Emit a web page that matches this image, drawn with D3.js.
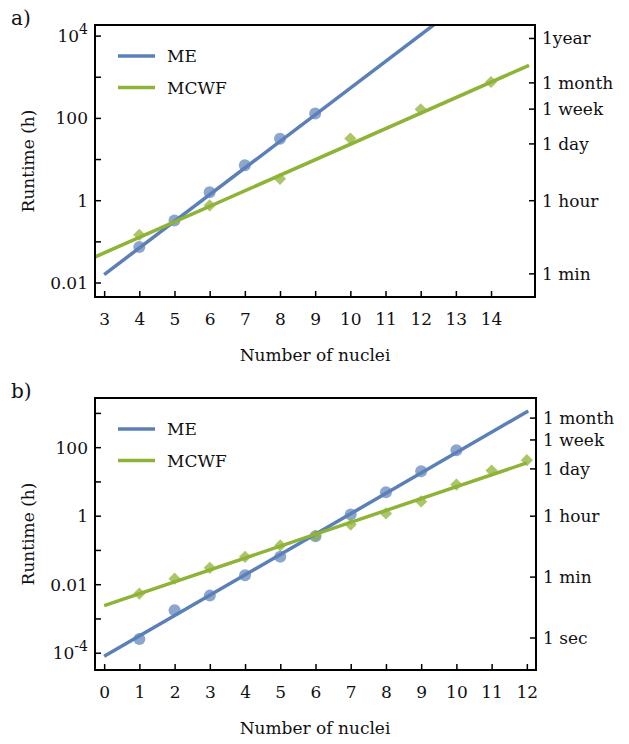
<!DOCTYPE html>
<html>
<head>
<meta charset="utf-8">
<style>
  body { margin: 0; background: #fff; }
  text { font-family: "DejaVu Serif", serif; fill: #111; }
</style>
</head>
<body>
<svg id="chart" width="629" height="744"></svg>
<script src="https://cdn.jsdelivr.net/npm/d3@7"></script>
<script>
// ---- data (runtime in hours) ----
var meNucleiA = [4, 5, 6, 7, 8, 9];
var meRuntimeA = [0.075, 0.33, 1.6, 7.3, 32, 132];
var mcwfNucleiA = [4, 6, 8, 10, 12, 14];
var mcwfRuntimeA = [0.148, 0.77, 3.4, 32.5, 166, 767];
var meFitA = [[3, 0.016], [12.5, 22700]];
var mcwfFitA = [[2.6, 0.038], [15.08, 1950]];

var meNucleiB = [1, 2, 3, 4, 5, 6, 7, 8, 9, 10];
var meRuntimeB = [0.00026, 0.0018, 0.0048, 0.019, 0.065, 0.26, 1.12, 5.0, 20.6, 84.7];
var mcwfNucleiB = [1, 2, 3, 4, 5, 6, 7, 8, 9, 10, 11, 12];
var mcwfRuntimeB = [0.0055, 0.015, 0.031, 0.065, 0.14, 0.27, 0.57, 1.2, 2.7, 8.4, 21.5, 43];
var meFitB = [[0, 0.000081], [12.04, 1175]];
var mcwfFitB = [[0, 0.00245], [12, 36]];

var xTicksA = [3, 4, 5, 6, 7, 8, 9, 10, 11, 12, 13, 14];
var xTicksB = [0, 1, 2, 3, 4, 5, 6, 7, 8, 9, 10, 11, 12];
var yLabelsA = [[10000, "10", "4"], [100, "100"], [1, "1"], [0.01, "0.01"]];
var yMinorA = [1000, 10, 0.1];
var yLabelsB = [[100, "100"], [1, "1"], [0.01, "0.01"], [0.0001, "10", "-4"]];
var yMinorB = [1000, 10, 0.1, 0.001];
var timeLabelsA = ["1 min", "1 hour", "1 day", "1 week", "1 month", "1year"];
var timeHoursA = [1 / 60, 1, 24, 168, 730, 8760];
var timeLabelsB = ["1 sec", "1 min", "1 hour", "1 day", "1 week", "1 month"];
var timeHoursB = [1 / 3600, 1 / 60, 1, 24, 168, 730];

var blue = "#5b80b8";
var green = "#8fb337";
var svg = d3.select("#chart");

function drawPanel(o) {
  var g = svg.append("g");
  var x = d3.scaleLinear().domain(o.xDomain).range([95, o.right]);
  var y = d3.scaleLog().domain(o.yDomain).range([o.bottom, o.top]);
  var clipId = "clip" + o.name;
  g.append("clipPath").attr("id", clipId).append("rect")
    .attr("x", 95).attr("y", o.top).attr("width", o.right - 95).attr("height", o.bottom - o.top);

  var plot = g.append("g").attr("clip-path", "url(#" + clipId + ")");
  var line = d3.line().x(function (d) { return x(d[0]); }).y(function (d) { return y(d[1]); });

  // points first, fits on top
  plot.selectAll("circle").data(d3.zip(o.meN, o.meT)).enter().append("circle")
    .attr("cx", function (d) { return x(d[0]); }).attr("cy", function (d) { return y(d[1]); })
    .attr("r", 6).attr("fill", blue).attr("opacity", 0.7);
  plot.selectAll("path.dia").data(d3.zip(o.mcN, o.mcT)).enter().append("path")
    .attr("class", "dia")
    .attr("d", d3.symbol().type(d3.symbolDiamond2).size(95))
    .attr("transform", function (d) { return "translate(" + x(d[0]) + "," + y(d[1]) + ")"; })
    .attr("fill", green).attr("opacity", 0.75);
  plot.append("path").attr("d", line(o.meFit)).attr("stroke", blue).attr("stroke-width", 3.5).attr("fill", "none");
  plot.append("path").attr("d", line(o.mcFit)).attr("stroke", green).attr("stroke-width", 3.5).attr("fill", "none");

  // frame
  g.append("rect").attr("x", 95).attr("y", o.top).attr("width", o.right - 95).attr("height", o.bottom - o.top)
    .attr("fill", "none").attr("stroke", "#000").attr("stroke-width", 2);

  // bottom axis, ticks inside
  var xAxis = g.append("g").attr("transform", "translate(0," + o.bottom + ")")
    .call(d3.axisBottom(x).tickValues(o.xTicks).tickSizeInner(-6).tickSizeOuter(0).tickPadding(16));
  xAxis.select(".domain").remove();
  xAxis.selectAll("line").attr("stroke-width", 1.5);
  xAxis.selectAll("text").attr("font-size", 17).attr("font-family", "DejaVu Serif").attr("fill", "#111");

  // left axis
  var lt = o.yMinor.concat(o.yLabels.map(function (d) { return d[0]; }));
  g.selectAll("line.lt").data(lt).enter().append("line")
    .attr("x1", 95).attr("x2", 101).attr("y1", function (d) { return y(d); }).attr("y2", function (d) { return y(d); })
    .attr("stroke", "#000").attr("stroke-width", 1.5);
  var yl = g.selectAll("text.yl").data(o.yLabels).enter().append("text")
    .attr("x", 88).attr("y", function (d) { return y(d[0]) + 6; })
    .attr("text-anchor", "end").attr("font-size", 17);
  yl.append("tspan").text(function (d) { return d[1]; });
  yl.filter(function (d) { return d[2]; }).append("tspan")
    .attr("dy", -8).attr("font-size", 14).text(function (d) { return d[2]; });

  // right axis (times)
  g.selectAll("line.rt").data(o.timeH).enter().append("line")
    .attr("x1", o.right - 6).attr("x2", o.right).attr("y1", function (d) { return y(d); }).attr("y2", function (d) { return y(d); })
    .attr("stroke", "#000").attr("stroke-width", 1.5);
  g.selectAll("text.rl").data(d3.zip(o.timeH, o.timeL)).enter().append("text")
    .attr("x", o.right + 7).attr("y", function (d) { return y(d[0]) + 6; })
    .attr("font-size", 17).text(function (d) { return d[1]; });

  // titles
  g.append("text").attr("transform", "translate(34," + ((o.top + o.bottom) / 2) + ") rotate(-90)")
    .attr("text-anchor", "middle").attr("font-size", 17).text("Runtime (h)");
  g.append("text").attr("x", 315).attr("y", o.bottom + 64).attr("text-anchor", "middle")
    .attr("font-size", 17).text("Number of nuclei");
  g.append("text").attr("x", 11).attr("y", o.top).attr("font-family", "DejaVu Sans")
    .attr("font-size", 20).text(o.name + ")");

  // legend
  var leg = [["ME", blue], ["MCWF", green]];
  leg.forEach(function (d, i) {
    var ly = o.top + o.legTop + i * 31.5;
    g.append("line").attr("x1", 118).attr("x2", 155).attr("y1", ly).attr("y2", ly)
      .attr("stroke", d[1]).attr("stroke-width", 3.5);
    g.append("text").attr("x", 167).attr("y", ly + 6).attr("font-size", 17).text(d[0]);
  });
}

drawPanel({
  name: "a", xDomain: [2.74, 15.25], yDomain: [Math.pow(10, -2.34), Math.pow(10, 4.27)],
  top: 25, bottom: 297, right: 535, legTop: 31,
  meN: meNucleiA, meT: meRuntimeA, mcN: mcwfNucleiA, mcT: mcwfRuntimeA, meFit: meFitA, mcFit: mcwfFitA,
  xTicks: xTicksA, yLabels: yLabelsA, yMinor: yMinorA, timeH: timeHoursA, timeL: timeLabelsA
});
drawPanel({
  name: "b", xDomain: [-0.26, 12.26], yDomain: [Math.pow(10, -4.49), Math.pow(10, 3.45)],
  top: 398, bottom: 670, right: 536, legTop: 31,
  meN: meNucleiB, meT: meRuntimeB, mcN: mcwfNucleiB, mcT: mcwfRuntimeB, meFit: meFitB, mcFit: mcwfFitB,
  xTicks: xTicksB, yLabels: yLabelsB, yMinor: yMinorB, timeH: timeHoursB, timeL: timeLabelsB
});
</script>
</body>
</html>
